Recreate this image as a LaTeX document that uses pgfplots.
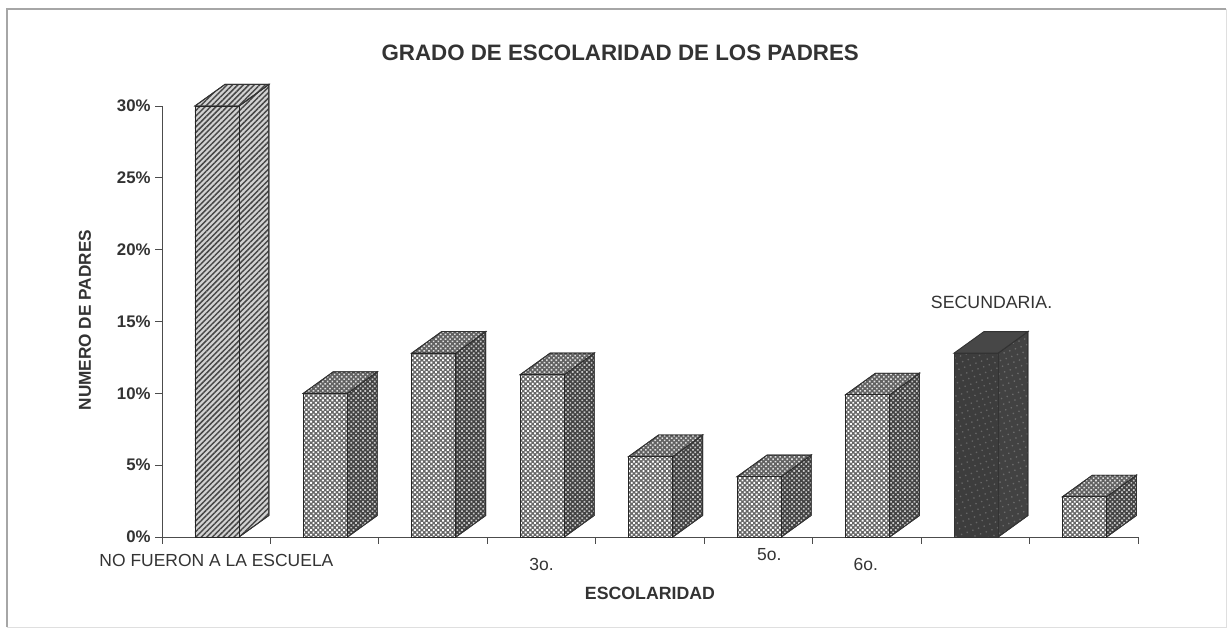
\documentclass[border=0pt]{standalone}
\usepackage{fontspec}
\setmainfont{Liberation Sans}
\usepackage{pgfplots}
\pgfplotsset{compat=1.18}
\usetikzlibrary{patterns.meta}
\definecolor{ink}{HTML}{333333}
\tikzset{
  hatchF/.style={fill=gray!35,postaction={pattern={Lines[angle=45,distance=2.9pt,line width=1.1pt]},pattern color=black!72}},
  hatchS/.style={fill=gray!35,postaction={pattern={Lines[angle=45,distance=2.9pt,line width=1.1pt]},pattern color=black!72}},
  dotF/.style={fill=black!60,postaction={pattern={Dots[radius=0.98pt,distance=2.5pt,angle=45]},pattern color=white}},
  dotT/.style={fill=black!62,postaction={pattern={Dots[radius=0.85pt,distance=2.5pt,angle=45]},pattern color=black!12}},
  dotS/.style={fill=black!74,postaction={pattern={Dots[radius=0.9pt,distance=2.5pt,angle=45]},pattern color=black!22}},
  darkF/.style={fill=black!76,postaction={pattern={Dots[radius=0.7pt,distance=4.5pt,angle=20]},pattern color=black!60}},
  darkT/.style={fill=black!72},
  darkS/.style={fill=black!74,postaction={pattern={Dots[radius=0.7pt,distance=4.5pt,angle=20]},pattern color=black!58}},
}
\begin{document}
\begin{tikzpicture}[x=0.75pt,y=0.75pt]
\useasboundingbox (-162,-92) rectangle (1067,537);
\draw[gray!70,line width=0.9pt] (-155,-90) -- (-155,528) -- (1064,528);
\draw[gray!25,line width=0.7pt] (-155,-90) -- (1064,-90) -- (1064,528);
\begin{axis}[
  at={(0,0)},anchor=south west,scale only axis,
  width=732pt,height=323.25pt,
  xmin=0,xmax=9,ymin=0,ymax=30,clip=false,
  axis lines=left,axis line style={-,black!70,line width=0.7pt},
  xtick={0,1,...,9},xticklabels={},
  ytick={0,5,...,30},yticklabels={0\%,5\%,10\%,15\%,20\%,25\%,30\%},
  tick align=outside,tick pos=left,major tick length=5pt,
  tick style={black!70,line width=0.6pt},
  yticklabel style={font=\fontsize{12.6}{14}\selectfont\bfseries,text=ink},
  /pgf/number format/assume math mode=true,
]
% side faces
\addplot[draw=black!80,line width=0.7pt,hatchS] coordinates {(0.71,0)(0.71,30)(0.985,31.5)(0.985,1.5)} -- cycle;
\addplot[draw=black!80,line width=0.7pt,dotS] coordinates {(1.71,0)(1.71,10)(1.985,11.5)(1.985,1.5)} -- cycle;
\addplot[draw=black!80,line width=0.7pt,dotS] coordinates {(2.71,0)(2.71,12.8)(2.985,14.3)(2.985,1.5)} -- cycle;
\addplot[draw=black!80,line width=0.7pt,dotS] coordinates {(3.71,0)(3.71,11.3)(3.985,12.8)(3.985,1.5)} -- cycle;
\addplot[draw=black!80,line width=0.7pt,dotS] coordinates {(4.71,0)(4.71,5.6)(4.985,7.1)(4.985,1.5)} -- cycle;
\addplot[draw=black!80,line width=0.7pt,dotS] coordinates {(5.71,0)(5.71,4.2)(5.985,5.7)(5.985,1.5)} -- cycle;
\addplot[draw=black!80,line width=0.7pt,dotS] coordinates {(6.71,0)(6.71,9.9)(6.985,11.4)(6.985,1.5)} -- cycle;
\addplot[draw=black!80,line width=0.7pt,darkS] coordinates {(7.71,0)(7.71,12.8)(7.985,14.3)(7.985,1.5)} -- cycle;
\addplot[draw=black!80,line width=0.7pt,dotS] coordinates {(8.71,0)(8.71,2.8)(8.985,4.3)(8.985,1.5)} -- cycle;
% top faces
\addplot[draw=black!80,line width=0.7pt,hatchS] coordinates {(0.304,30)(0.71,30)(0.985,31.5)(0.58,31.5)} -- cycle;
\addplot[draw=black!80,line width=0.7pt,dotT] coordinates {(1.304,10)(1.71,10)(1.985,11.5)(1.58,11.5)} -- cycle;
\addplot[draw=black!80,line width=0.7pt,dotT] coordinates {(2.304,12.8)(2.71,12.8)(2.985,14.3)(2.58,14.3)} -- cycle;
\addplot[draw=black!80,line width=0.7pt,dotT] coordinates {(3.304,11.3)(3.71,11.3)(3.985,12.8)(3.58,12.8)} -- cycle;
\addplot[draw=black!80,line width=0.7pt,dotT] coordinates {(4.304,5.6)(4.71,5.6)(4.985,7.1)(4.58,7.1)} -- cycle;
\addplot[draw=black!80,line width=0.7pt,dotT] coordinates {(5.304,4.2)(5.71,4.2)(5.985,5.7)(5.58,5.7)} -- cycle;
\addplot[draw=black!80,line width=0.7pt,dotT] coordinates {(6.304,9.9)(6.71,9.9)(6.985,11.4)(6.58,11.4)} -- cycle;
\addplot[draw=black!80,line width=0.7pt,darkT] coordinates {(7.304,12.8)(7.71,12.8)(7.985,14.3)(7.58,14.3)} -- cycle;
\addplot[draw=black!80,line width=0.7pt,dotT] coordinates {(8.304,2.8)(8.71,2.8)(8.985,4.3)(8.58,4.3)} -- cycle;
% front faces
\addplot[ybar,bar width=33pt,bar shift=0pt,draw=black!85,line width=0.7pt,hatchF] coordinates {(0.507,30)};
\addplot[ybar,bar width=33pt,bar shift=0pt,draw=black!85,line width=0.7pt,dotF] coordinates {(1.507,10)(2.507,12.8)(3.507,11.3)(4.507,5.6)(5.507,4.2)(6.507,9.9)(8.507,2.8)};
\addplot[ybar,bar width=33pt,bar shift=0pt,draw=black!80,line width=0.7pt,darkF] coordinates {(7.507,12.8)};
% texts
\node[font=\fontsize{16.75}{18}\selectfont\bfseries,text=ink] at (axis cs:4.225,33.7) {GRADO DE ESCOLARIDAD DE LOS PADRES};
\node[font=\fontsize{13.1}{15}\selectfont,text=ink,anchor=west] at (axis cs:-0.62,-1.6) {NO FUERON A LA ESCUELA};
\node[font=\fontsize{13.1}{15}\selectfont,text=ink] at (axis cs:3.5,-1.9) {3o.};
\node[font=\fontsize{13.1}{15}\selectfont,text=ink] at (axis cs:5.6,-1.25) {5o.};
\node[font=\fontsize{13.1}{15}\selectfont,text=ink] at (axis cs:6.49,-1.9) {6o.};
\node[font=\fontsize{13.3}{15}\selectfont,text=ink] at (axis cs:7.65,16.3) {SECUNDARIA.};
\node[font=\fontsize{13.3}{15}\selectfont\bfseries,text=ink] at (axis cs:4.5,-3.9) {ESCOLARIDAD};
\node[font=\fontsize{12.9}{15}\selectfont\bfseries,text=ink,rotate=90] at (axis cs:-0.71,15.1) {NUMERO DE PADRES};
\end{axis}
\end{tikzpicture}
\end{document}
